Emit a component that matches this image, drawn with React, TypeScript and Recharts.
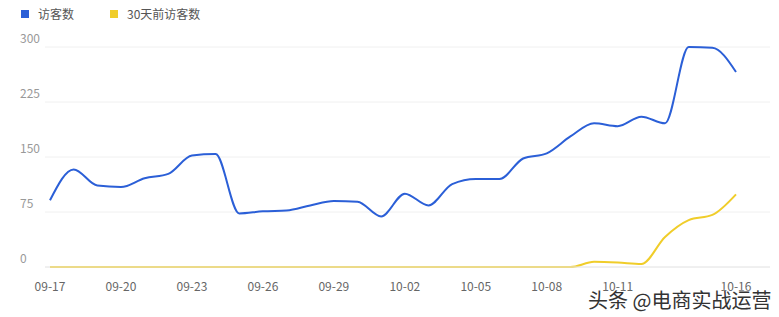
import React from 'react'
import { CartesianGrid, Line, LineChart, XAxis, YAxis } from 'recharts'

const dates = [
  '09-17', '09-18', '09-19', '09-20', '09-21', '09-22', '09-23', '09-24', '09-25', '09-26',
  '09-27', '09-28', '09-29', '09-30', '10-01', '10-02', '10-03', '10-04', '10-05', '10-06',
  '10-07', '10-08', '10-09', '10-10', '10-11', '10-12', '10-13', '10-14', '10-15', '10-16',
]
const visitors = [
  91, 133, 111, 109, 121, 127, 152, 154, 73, 76,
  77, 84, 90, 89, 69, 100, 84, 113, 120, 120,
  148, 155, 178, 196, 192, 205, 196, 300, 299, 266,
]
const visitorsPrev = [
  0, 0, 0, 0, 0, 0, 0, 0, 0, 0,
  0, 0, 0, 0, 0, 0, 0, 0, 0, 0,
  0, 0, 0, 7, 6, 4, 41, 64, 71, 99,
]
const shownDates = ['09-17', '09-20', '09-23', '09-26', '09-29', '10-02', '10-05', '10-08', '10-11', '10-16']
const yTicks = [0, 75, 150, 225, 300]

const data = dates.map((d, i) => ({ date: d, visitors: visitors[i], prev: visitorsPrev[i] }))

const font = '"Noto Sans CJK SC", "Noto Sans", sans-serif'
const BLUE = '#2b5fd7'
const YELLOW = '#f0cd2a'

const XTick = (props: any) => {
  const { x, y, payload } = props
  if (!shownDates.includes(payload.value)) return null
  return (
    <text x={x} y={y + 16} textAnchor="middle" fill="#666" fontSize={12} fontFamily={font}>
      {payload.value}
    </text>
  )
}

const YTick = (props: any) => {
  const { y, payload } = props
  return (
    <text x={20} y={y - 4} textAnchor="start" fill="#999" fontSize={12} fontFamily={font}>
      {payload.value}
    </text>
  )
}

const LegendBox = () => (
  <div
    style={{
      position: 'absolute',
      left: 21,
      top: 5,
      display: 'flex',
      fontFamily: font,
      fontSize: 12,
      color: '#555',
    }}
  >
    <div style={{ display: 'flex', alignItems: 'center', width: 89 }}>
      <span style={{ width: 8, height: 8, background: BLUE, marginRight: 9 }} />
      访客数
    </div>
    <div style={{ display: 'flex', alignItems: 'center' }}>
      <span style={{ width: 8, height: 8, background: YELLOW, marginRight: 9 }} />
      30天前访客数
    </div>
  </div>
)

const App = () => {
  return (
    <div style={{ position: 'fixed', left: 0, top: 0, width: 779, height: 317, background: '#fff' }}>
      <LineChart width={779} height={317} data={data} margin={{ top: 47, right: 9, left: 0, bottom: 0 }}>
        <CartesianGrid vertical={false} stroke="#f0f0f0" />
        <XAxis
          dataKey="date"
          interval={0}
          tick={<XTick />}
          tickLine={false}
          axisLine={{ stroke: '#e8e8e8' }}
          height={50}
          padding={{ left: 5, right: 34 }}
        />
        <YAxis
          domain={[0, 300]}
          ticks={yTicks}
          width={45}
          tick={<YTick />}
          tickLine={false}
          axisLine={false}
        />
        <Line type="monotone" dataKey="visitors" stroke={BLUE} strokeWidth={2} dot={false} isAnimationActive={false} />
        <Line type="monotone" dataKey="prev" stroke={YELLOW} strokeWidth={2} dot={false} isAnimationActive={false} />
      </LineChart>
      <LegendBox />
      <div
        style={{
          position: 'absolute',
          left: 588,
          top: 285,
          fontFamily: font,
          fontSize: 20,
          color: '#333',
          textShadow: '0 0 2px #fff, 0 0 2px #fff',
          whiteSpace: 'nowrap',
        }}
      >
        头条 @电商实战运营
      </div>
    </div>
  )
}

export default App
